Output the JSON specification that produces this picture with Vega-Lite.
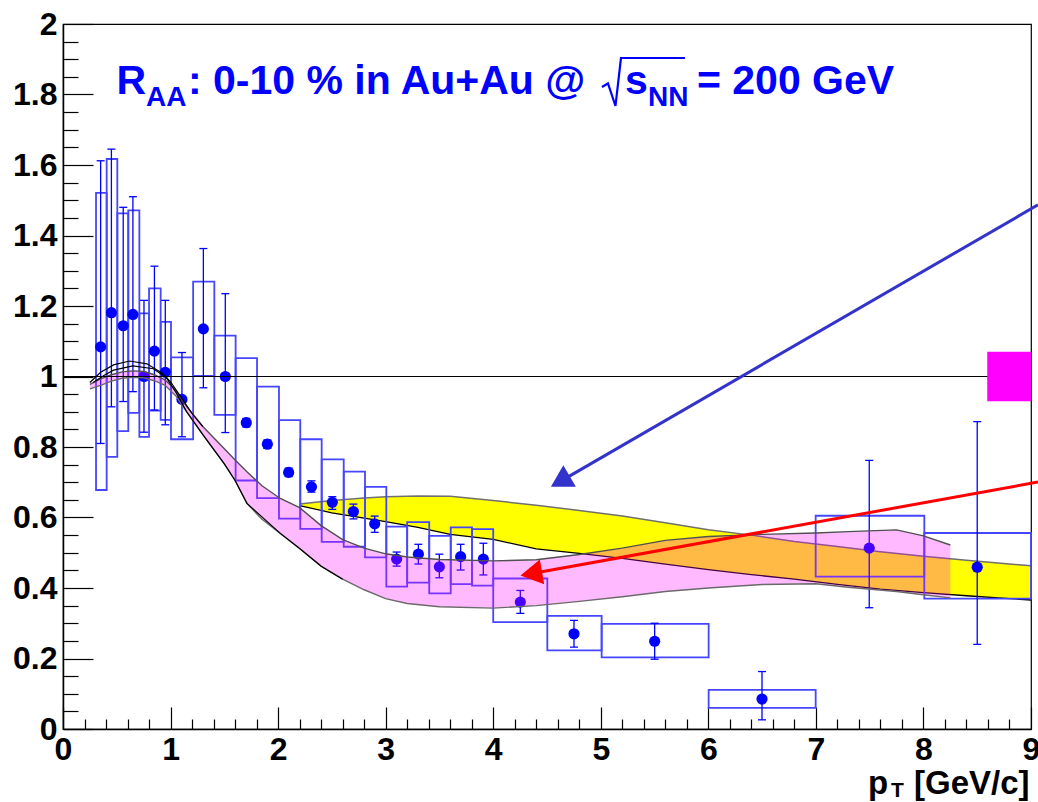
{
  "$schema": "https://vega.github.io/schema/vega-lite/v6.json",
  "width": 968,
  "height": 705,
  "autosize": {"type": "none"},
  "padding": {"left": 63, "top": 24, "right": 7, "bottom": 73},
  "background": "#ffffff",
  "config": {
    "view": {"stroke": "#000000", "strokeWidth": 1.2},
    "axis": {"grid": false, "domainColor": "#000000", "tickColor": "#000000", "labelColor": "#000000", "labelFont": "Liberation Sans", "labelFontWeight": "bold", "labelFontSize": 32, "zindex": 1, "labelFlush": false, "labelOverlap": false}
  },
  "resolve": {"axis": {"x": "independent", "y": "independent"}},
  "datasets": {
    "pts": [
      {"x": 0.35, "y": 1.084, "elo": 0.810, "ehi": 1.612, "bx1": 0.307, "bx2": 0.406, "blo": 0.678, "bhi": 1.521},
      {"x": 0.45, "y": 1.181, "elo": 0.914, "ehi": 1.645, "bx1": 0.406, "bx2": 0.505, "blo": 0.772, "bhi": 1.617},
      {"x": 0.56, "y": 1.144, "elo": 0.929, "ehi": 1.480, "bx1": 0.505, "bx2": 0.607, "blo": 0.845, "bhi": 1.463},
      {"x": 0.65, "y": 1.176, "elo": 0.957, "ehi": 1.510, "bx1": 0.607, "bx2": 0.710, "blo": 0.897, "bhi": 1.471},
      {"x": 0.753, "y": 1.000, "elo": 0.842, "ehi": 1.216, "bx1": 0.710, "bx2": 0.800, "blo": 0.829, "bhi": 1.179},
      {"x": 0.85, "y": 1.072, "elo": 0.905, "ehi": 1.313, "bx1": 0.800, "bx2": 0.908, "blo": 0.903, "bhi": 1.250},
      {"x": 0.951, "y": 1.012, "elo": 0.863, "ehi": 1.216, "bx1": 0.908, "bx2": 1.004, "blo": 0.877, "bhi": 1.155},
      {"x": 1.106, "y": 0.935, "elo": 0.829, "ehi": 1.068, "bx1": 1.004, "bx2": 1.210, "blo": 0.822, "bhi": 1.054},
      {"x": 1.305, "y": 1.135, "elo": 0.968, "ehi": 1.363, "bx1": 1.210, "bx2": 1.407, "blo": 1.002, "bhi": 1.269},
      {"x": 1.509, "y": 1.000, "elo": 0.841, "ehi": 1.235, "bx1": 1.407, "bx2": 1.605, "blo": 0.891, "bhi": 1.116},
      {"x": 1.704, "y": 0.869, "elo": 0.857, "ehi": 0.881, "bx1": 1.605, "bx2": 1.804, "blo": 0.705, "bhi": 1.052},
      {"x": 1.900, "y": 0.808, "elo": 0.796, "ehi": 0.820, "bx1": 1.804, "bx2": 2.008, "blo": 0.655, "bhi": 0.971},
      {"x": 2.098, "y": 0.728, "elo": 0.716, "ehi": 0.740, "bx1": 2.008, "bx2": 2.206, "blo": 0.597, "bhi": 0.876},
      {"x": 2.310, "y": 0.687, "elo": 0.672, "ehi": 0.704, "bx1": 2.206, "bx2": 2.405, "blo": 0.568, "bhi": 0.822},
      {"x": 2.504, "y": 0.643, "elo": 0.623, "ehi": 0.659, "bx1": 2.405, "bx2": 2.610, "blo": 0.531, "bhi": 0.765},
      {"x": 2.700, "y": 0.617, "elo": 0.596, "ehi": 0.638, "bx1": 2.610, "bx2": 2.808, "blo": 0.517, "bhi": 0.730},
      {"x": 2.898, "y": 0.582, "elo": 0.558, "ehi": 0.604, "bx1": 2.808, "bx2": 3.006, "blo": 0.487, "bhi": 0.687},
      {"x": 3.102, "y": 0.482, "elo": 0.462, "ehi": 0.502, "bx1": 3.006, "bx2": 3.200, "blo": 0.404, "bhi": 0.574},
      {"x": 3.304, "y": 0.496, "elo": 0.468, "ehi": 0.524, "bx1": 3.200, "bx2": 3.405, "blo": 0.415, "bhi": 0.587},
      {"x": 3.499, "y": 0.460, "elo": 0.429, "ehi": 0.496, "bx1": 3.405, "bx2": 3.605, "blo": 0.385, "bhi": 0.548},
      {"x": 3.697, "y": 0.489, "elo": 0.451, "ehi": 0.524, "bx1": 3.605, "bx2": 3.803, "blo": 0.411, "bhi": 0.572},
      {"x": 3.908, "y": 0.482, "elo": 0.437, "ehi": 0.527, "bx1": 3.803, "bx2": 4.000, "blo": 0.407, "bhi": 0.567},
      {"x": 4.252, "y": 0.360, "elo": 0.328, "ehi": 0.393, "bx1": 4.000, "bx2": 4.503, "blo": 0.303, "bhi": 0.427},
      {"x": 4.751, "y": 0.270, "elo": 0.232, "ehi": 0.308, "bx1": 4.503, "bx2": 5.008, "blo": 0.223, "bhi": 0.321},
      {"x": 5.501, "y": 0.249, "elo": 0.198, "ehi": 0.300, "bx1": 5.008, "bx2": 6.003, "blo": 0.203, "bhi": 0.298},
      {"x": 6.499, "y": 0.085, "elo": 0.026, "ehi": 0.163, "bx1": 6.003, "bx2": 6.998, "blo": 0.060, "bhi": 0.111},
      {"x": 7.496, "y": 0.513, "elo": 0.344, "ehi": 0.762, "bx1": 6.998, "bx2": 8.008, "blo": 0.432, "bhi": 0.605},
      {"x": 8.500, "y": 0.459, "elo": 0.240, "ehi": 0.872, "bx1": 8.008, "bx2": 9.000, "blo": 0.370, "bhi": 0.556}
    ],
    "yellow": [
      {"x": 2.2, "hi": 0.638, "lo": 0.634},
      {"x": 2.5, "hi": 0.648, "lo": 0.613},
      {"x": 2.8, "hi": 0.655, "lo": 0.598},
      {"x": 3.0, "hi": 0.659, "lo": 0.588},
      {"x": 3.3, "hi": 0.661, "lo": 0.572},
      {"x": 3.6, "hi": 0.660, "lo": 0.552},
      {"x": 4.0, "hi": 0.648, "lo": 0.538},
      {"x": 4.4, "hi": 0.635, "lo": 0.511},
      {"x": 4.8, "hi": 0.620, "lo": 0.498},
      {"x": 5.2, "hi": 0.604, "lo": 0.484},
      {"x": 5.6, "hi": 0.585, "lo": 0.468},
      {"x": 6.0, "hi": 0.565, "lo": 0.452},
      {"x": 6.4, "hi": 0.550, "lo": 0.438},
      {"x": 6.8, "hi": 0.532, "lo": 0.425},
      {"x": 7.2, "hi": 0.518, "lo": 0.410},
      {"x": 7.6, "hi": 0.503, "lo": 0.397},
      {"x": 8.0, "hi": 0.490, "lo": 0.387},
      {"x": 8.4, "hi": 0.479, "lo": 0.378},
      {"x": 8.8, "hi": 0.468, "lo": 0.370},
      {"x": 9.0, "hi": 0.463, "lo": 0.366}
    ],
    "pink": [
      {"x": 0.25, "hi": 0.978, "lo": 0.965},
      {"x": 0.35, "hi": 0.993, "lo": 0.975},
      {"x": 0.45, "hi": 1.005, "lo": 0.987},
      {"x": 0.55, "hi": 1.013, "lo": 0.995},
      {"x": 0.65, "hi": 1.016, "lo": 0.998},
      {"x": 0.75, "hi": 1.014, "lo": 0.996},
      {"x": 0.85, "hi": 1.005, "lo": 0.988},
      {"x": 0.95, "hi": 0.990, "lo": 0.975},
      {"x": 1.05, "hi": 0.960, "lo": 0.945},
      {"x": 1.15, "hi": 0.915, "lo": 0.900},
      {"x": 1.3, "hi": 0.858, "lo": 0.835},
      {"x": 1.5, "hi": 0.795, "lo": 0.752},
      {"x": 1.6, "hi": 0.763, "lo": 0.705},
      {"x": 1.71, "hi": 0.730, "lo": 0.640},
      {"x": 1.85, "hi": 0.690, "lo": 0.595},
      {"x": 2.02, "hi": 0.654, "lo": 0.555},
      {"x": 2.2, "hi": 0.628, "lo": 0.512},
      {"x": 2.4, "hi": 0.577, "lo": 0.462},
      {"x": 2.6, "hi": 0.537, "lo": 0.425},
      {"x": 2.8, "hi": 0.513, "lo": 0.395},
      {"x": 3.0, "hi": 0.497, "lo": 0.370},
      {"x": 3.2, "hi": 0.488, "lo": 0.356},
      {"x": 3.5, "hi": 0.481, "lo": 0.347},
      {"x": 4.0, "hi": 0.477, "lo": 0.343},
      {"x": 4.4, "hi": 0.480, "lo": 0.350},
      {"x": 4.8, "hi": 0.495, "lo": 0.362},
      {"x": 5.2, "hi": 0.513, "lo": 0.375},
      {"x": 5.6, "hi": 0.535, "lo": 0.390},
      {"x": 6.0, "hi": 0.546, "lo": 0.400},
      {"x": 6.5, "hi": 0.552, "lo": 0.410},
      {"x": 7.0, "hi": 0.556, "lo": 0.412},
      {"x": 7.3, "hi": 0.560, "lo": 0.402},
      {"x": 7.75, "hi": 0.565, "lo": 0.390},
      {"x": 8.0, "hi": 0.548, "lo": 0.381},
      {"x": 8.25, "hi": 0.522, "lo": 0.372}
    ],
    "blk": [
      {"c": "top", "x": 0.25, "y": 0.983},
      {"c": "top", "x": 0.35, "y": 1.012},
      {"c": "top", "x": 0.47, "y": 1.033},
      {"c": "top", "x": 0.62, "y": 1.044},
      {"c": "top", "x": 0.78, "y": 1.036},
      {"c": "top", "x": 0.92, "y": 1.010},
      {"c": "top", "x": 1.0, "y": 0.985},
      {"c": "top", "x": 1.1, "y": 0.940},
      {"c": "top", "x": 1.2, "y": 0.895},
      {"c": "top", "x": 1.3, "y": 0.858},
      {"c": "bot", "x": 0.28, "y": 0.983},
      {"c": "bot", "x": 0.38, "y": 1.003},
      {"c": "bot", "x": 0.47, "y": 1.018},
      {"c": "bot", "x": 0.65, "y": 1.030},
      {"c": "bot", "x": 0.84, "y": 1.022},
      {"c": "bot", "x": 0.96, "y": 0.997},
      {"c": "bot", "x": 1.05, "y": 0.955},
      {"c": "bot", "x": 1.15, "y": 0.900},
      {"c": "bot", "x": 1.3, "y": 0.835},
      {"c": "bot", "x": 1.5, "y": 0.752},
      {"c": "bot", "x": 1.6, "y": 0.705},
      {"c": "bot", "x": 1.71, "y": 0.640},
      {"c": "bot", "x": 2.02, "y": 0.555},
      {"c": "bot", "x": 2.2, "y": 0.512},
      {"c": "bot", "x": 2.4, "y": 0.462},
      {"c": "bot", "x": 2.6, "y": 0.425}
    ],
    "norm": [{"x1": 8.593, "x2": 9.0, "lo": 0.930, "hi": 1.070}],
    "arrows": [
      {"a": "blue", "x": 9.065, "y": 1.487},
      {"a": "blue", "x": 4.652, "y": 0.7075},
      {"a": "red", "x": 9.065, "y": 0.7005},
      {"a": "red", "x": 4.387, "y": 0.4423}
    ],
    "radical": [
      {"i": 0, "x": 5.0112, "y": 1.8213},
      {"i": 1, "x": 5.0670, "y": 1.8312},
      {"i": 2, "x": 5.1367, "y": 1.7674},
      {"i": 3, "x": 5.1878, "y": 1.9035},
      {"i": 4, "x": 5.7828, "y": 1.9035}
    ],
    "title": [
      {"t": "R", "x": 0.4974, "y": 1.8028, "k": "big"},
      {"t": "AA", "x": 0.7717, "y": 1.7674, "k": "sub"},
      {"t": ": 0-10 % in Au+Au @", "x": 1.1622, "y": 1.8028, "k": "big"},
      {"t": "s", "x": 5.2250, "y": 1.8028, "k": "big"},
      {"t": "NN", "x": 5.4389, "y": 1.7674, "k": "sub"},
      {"t": "= 200 GeV", "x": 5.8944, "y": 1.8028, "k": "big"}
    ],
    "xtitle": [
      {"t": "p", "x": 7.4842, "y": -0.184, "k": "big"},
      {"t": "T", "x": 7.6980, "y": -0.194, "k": "sub"},
      {"t": "[GeV/c]", "x": 7.9119, "y": -0.184, "k": "big"}
    ]
  },
  "layer": [
    {
      "data": {"name": "yellow"},
      "mark": {"type": "area", "color": "#ffff00", "opacity": 1},
      "encoding": {
        "x": {"field": "x", "type": "quantitative", "scale": {"domain": [0, 9], "nice": false, "zero": false},
          "axis": {"orient": "bottom", "values": [0, 1, 2, 3, 4, 5, 6, 7, 8, 9], "format": "~g", "tickSize": -22, "tickWidth": 1.2, "labelPadding": 27, "domainWidth": 1.5, "title": null}},
        "y": {"field": "hi", "type": "quantitative", "scale": {"domain": [0, 2], "nice": false, "zero": false},
          "axis": {"orient": "left", "values": [0, 0.2, 0.4, 0.6, 0.8, 1, 1.2, 1.4, 1.6, 1.8, 2], "format": "~g", "tickSize": -30, "tickWidth": 1.2, "labelPadding": 36, "domainWidth": 1.5, "title": null}},
        "y2": {"field": "lo"}
      }
    },
    {
      "data": {"name": "yellow"},
      "mark": {"type": "line", "color": "#707070", "strokeWidth": 1.5},
      "encoding": {
        "x": {"field": "x", "type": "quantitative", "scale": {"domain": [0, 9], "nice": false, "zero": false}, "axis": null},
        "y": {"field": "hi", "type": "quantitative", "scale": {"domain": [0, 2], "nice": false, "zero": false}, "axis": null}
      }
    },
    {
      "data": {"name": "yellow"},
      "mark": {"type": "line", "color": "#000000", "strokeWidth": 1.3},
      "encoding": {
        "x": {"field": "x", "type": "quantitative", "scale": {"domain": [0, 9], "nice": false, "zero": false}, "axis": null},
        "y": {"field": "lo", "type": "quantitative", "scale": {"domain": [0, 2], "nice": false, "zero": false}, "axis": null}
      }
    },
    {
      "data": {"name": "pts"},
      "mark": {"type": "rect", "filled": false, "color": "#4646ff", "strokeWidth": 1.8},
      "encoding": {
        "x": {"field": "bx1", "type": "quantitative", "scale": {"domain": [0, 9], "nice": false, "zero": false},
          "axis": {"orient": "bottom", "values": [0.2, 0.4, 0.6, 0.8, 1.2, 1.4, 1.6, 1.8, 2.2, 2.4, 2.6, 2.8, 3.2, 3.4, 3.6, 3.8, 4.2, 4.4, 4.6, 4.8, 5.2, 5.4, 5.6, 5.8, 6.2, 6.4, 6.6, 6.8, 7.2, 7.4, 7.6, 7.8, 8.2, 8.4, 8.6, 8.8], "tickSize": -10, "tickWidth": 1.2, "labels": false, "domain": false, "title": null}},
        "x2": {"field": "bx2"},
        "y": {"field": "blo", "type": "quantitative", "scale": {"domain": [0, 2], "nice": false, "zero": false},
          "axis": {"orient": "left", "values": [0.05, 0.1, 0.15, 0.25, 0.3, 0.35, 0.45, 0.5, 0.55, 0.65, 0.7, 0.75, 0.85, 0.9, 0.95, 1.05, 1.1, 1.15, 1.25, 1.3, 1.35, 1.45, 1.5, 1.55, 1.65, 1.7, 1.75, 1.85, 1.9, 1.95], "tickSize": -15, "tickWidth": 1.2, "labels": false, "domain": false, "title": null}},
        "y2": {"field": "bhi"}
      }
    },
    {
      "data": {"name": "pts"},
      "mark": {"type": "rule", "color": "#0000ff", "strokeWidth": 1.3},
      "encoding": {
        "x": {"field": "x", "type": "quantitative", "scale": {"domain": [0, 9], "nice": false, "zero": false}, "axis": null},
        "y": {"field": "elo", "type": "quantitative", "scale": {"domain": [0, 2], "nice": false, "zero": false}, "axis": null},
        "y2": {"field": "ehi"}
      }
    },
    {
      "data": {"name": "pts"},
      "mark": {"type": "tick", "orient": "horizontal", "color": "#0000ff", "size": 8, "thickness": 1.3, "opacity": 1},
      "encoding": {
        "x": {"field": "x", "type": "quantitative", "scale": {"domain": [0, 9], "nice": false, "zero": false}, "axis": null},
        "y": {"field": "ehi", "type": "quantitative", "scale": {"domain": [0, 2], "nice": false, "zero": false}, "axis": null}
      }
    },
    {
      "data": {"name": "pts"},
      "mark": {"type": "tick", "orient": "horizontal", "color": "#0000ff", "size": 8, "thickness": 1.3, "opacity": 1},
      "encoding": {
        "x": {"field": "x", "type": "quantitative", "scale": {"domain": [0, 9], "nice": false, "zero": false}, "axis": null},
        "y": {"field": "elo", "type": "quantitative", "scale": {"domain": [0, 2], "nice": false, "zero": false}, "axis": null}
      }
    },
    {
      "data": {"name": "pts"},
      "mark": {"type": "circle", "color": "#0000ff", "size": 125, "opacity": 1},
      "encoding": {
        "x": {"field": "x", "type": "quantitative", "scale": {"domain": [0, 9], "nice": false, "zero": false}, "axis": null},
        "y": {"field": "y", "type": "quantitative", "scale": {"domain": [0, 2], "nice": false, "zero": false}, "axis": null}
      }
    },
    {
      "data": {"name": "pink"},
      "mark": {"type": "area", "color": "#ff00ff", "opacity": 0.27},
      "encoding": {
        "x": {"field": "x", "type": "quantitative", "scale": {"domain": [0, 9], "nice": false, "zero": false}, "axis": null},
        "y": {"field": "hi", "type": "quantitative", "scale": {"domain": [0, 2], "nice": false, "zero": false}, "axis": null},
        "y2": {"field": "lo"}
      }
    },
    {
      "data": {"name": "pink"},
      "mark": {"type": "line", "color": "#505050", "strokeWidth": 1.4},
      "encoding": {
        "x": {"field": "x", "type": "quantitative", "scale": {"domain": [0, 9], "nice": false, "zero": false}, "axis": null},
        "y": {"field": "hi", "type": "quantitative", "scale": {"domain": [0, 2], "nice": false, "zero": false}, "axis": null}
      }
    },
    {
      "data": {"name": "pink"},
      "mark": {"type": "line", "color": "#6a6a6a", "strokeWidth": 1.4},
      "encoding": {
        "x": {"field": "x", "type": "quantitative", "scale": {"domain": [0, 9], "nice": false, "zero": false}, "axis": null},
        "y": {"field": "lo", "type": "quantitative", "scale": {"domain": [0, 2], "nice": false, "zero": false}, "axis": null}
      }
    },
    {
      "data": {"name": "blk"},
      "mark": {"type": "line", "color": "#000000", "strokeWidth": 1.2},
      "encoding": {
        "x": {"field": "x", "type": "quantitative", "scale": {"domain": [0, 9], "nice": false, "zero": false}, "axis": null},
        "y": {"field": "y", "type": "quantitative", "scale": {"domain": [0, 2], "nice": false, "zero": false}, "axis": null},
        "detail": {"field": "c", "type": "nominal"}
      }
    },
    {
      "data": {"values": [{}]},
      "mark": {"type": "rule", "color": "#000000", "strokeWidth": 1},
      "encoding": {
        "x": {"datum": 0, "type": "quantitative", "scale": {"domain": [0, 9], "nice": false, "zero": false}, "axis": null},
        "x2": {"datum": 9},
        "y": {"datum": 1, "type": "quantitative", "scale": {"domain": [0, 2], "nice": false, "zero": false}, "axis": null}
      }
    },
    {
      "data": {"name": "norm"},
      "mark": {"type": "rect", "color": "#ff00ff", "opacity": 1},
      "encoding": {
        "x": {"field": "x1", "type": "quantitative", "scale": {"domain": [0, 9], "nice": false, "zero": false}, "axis": null},
        "x2": {"field": "x2"},
        "y": {"field": "lo", "type": "quantitative", "scale": {"domain": [0, 2], "nice": false, "zero": false}, "axis": null},
        "y2": {"field": "hi"}
      }
    },
    {
      "data": {"name": "arrows"},
      "mark": {"type": "line", "strokeWidth": 3},
      "encoding": {
        "x": {"field": "x", "type": "quantitative", "scale": {"domain": [0, 9], "nice": false, "zero": false}, "axis": null},
        "y": {"field": "y", "type": "quantitative", "scale": {"domain": [0, 2], "nice": false, "zero": false}, "axis": null},
        "color": {"field": "a", "type": "nominal", "scale": {"domain": ["blue", "red"], "range": ["#3333cc", "#ff0000"]}, "legend": null}
      }
    },
    {
      "data": {"name": "arrows"},
      "transform": [{"filter": "datum.a === 'blue' && datum.x < 9"}],
      "mark": {"type": "point", "shape": "triangle", "filled": true, "size": 625, "angle": 240, "color": "#3333cc", "opacity": 1},
      "encoding": {
        "x": {"field": "x", "type": "quantitative", "scale": {"domain": [0, 9], "nice": false, "zero": false}, "axis": null},
        "y": {"field": "y", "type": "quantitative", "scale": {"domain": [0, 2], "nice": false, "zero": false}, "axis": null}
      }
    },
    {
      "data": {"name": "arrows"},
      "transform": [{"filter": "datum.a === 'red' && datum.x < 9"}],
      "mark": {"type": "point", "shape": "triangle", "filled": true, "size": 635, "angle": 260, "color": "#ff0000", "opacity": 1},
      "encoding": {
        "x": {"field": "x", "type": "quantitative", "scale": {"domain": [0, 9], "nice": false, "zero": false}, "axis": null},
        "y": {"field": "y", "type": "quantitative", "scale": {"domain": [0, 2], "nice": false, "zero": false}, "axis": null}
      }
    },
    {
      "data": {"name": "radical"},
      "mark": {"type": "line", "color": "#0000ff", "strokeWidth": 2.2},
      "encoding": {
        "x": {"field": "x", "type": "quantitative", "scale": {"domain": [0, 9], "nice": false, "zero": false}, "axis": null},
        "y": {"field": "y", "type": "quantitative", "scale": {"domain": [0, 2], "nice": false, "zero": false}, "axis": null},
        "order": {"field": "i"}
      }
    },
    {
      "data": {"name": "title"},
      "transform": [{"filter": "datum.k === 'big'"}],
      "mark": {"type": "text", "font": "Liberation Sans", "fontWeight": "bold", "fontSize": 41, "color": "#0000ff", "align": "left", "baseline": "alphabetic"},
      "encoding": {
        "x": {"field": "x", "type": "quantitative", "scale": {"domain": [0, 9], "nice": false, "zero": false}, "axis": null},
        "y": {"field": "y", "type": "quantitative", "scale": {"domain": [0, 2], "nice": false, "zero": false}, "axis": null},
        "text": {"field": "t"}
      }
    },
    {
      "data": {"name": "title"},
      "transform": [{"filter": "datum.k === 'sub'"}],
      "mark": {"type": "text", "font": "Liberation Sans", "fontWeight": "bold", "fontSize": 28, "color": "#0000ff", "align": "left", "baseline": "alphabetic"},
      "encoding": {
        "x": {"field": "x", "type": "quantitative", "scale": {"domain": [0, 9], "nice": false, "zero": false}, "axis": null},
        "y": {"field": "y", "type": "quantitative", "scale": {"domain": [0, 2], "nice": false, "zero": false}, "axis": null},
        "text": {"field": "t"}
      }
    },
    {
      "data": {"name": "xtitle"},
      "transform": [{"filter": "datum.k === 'big'"}],
      "mark": {"type": "text", "font": "Liberation Sans", "fontWeight": "bold", "fontSize": 33, "color": "#000000", "align": "left", "baseline": "alphabetic"},
      "encoding": {
        "x": {"field": "x", "type": "quantitative", "scale": {"domain": [0, 9], "nice": false, "zero": false}, "axis": null},
        "y": {"field": "y", "type": "quantitative", "scale": {"domain": [0, 2], "nice": false, "zero": false}, "axis": null},
        "text": {"field": "t"}
      }
    },
    {
      "data": {"name": "xtitle"},
      "transform": [{"filter": "datum.k === 'sub'"}],
      "mark": {"type": "text", "font": "Liberation Sans", "fontWeight": "bold", "fontSize": 21, "color": "#000000", "align": "left", "baseline": "alphabetic"},
      "encoding": {
        "x": {"field": "x", "type": "quantitative", "scale": {"domain": [0, 9], "nice": false, "zero": false}, "axis": null},
        "y": {"field": "y", "type": "quantitative", "scale": {"domain": [0, 2], "nice": false, "zero": false}, "axis": null},
        "text": {"field": "t"}
      }
    }
  ]
}
